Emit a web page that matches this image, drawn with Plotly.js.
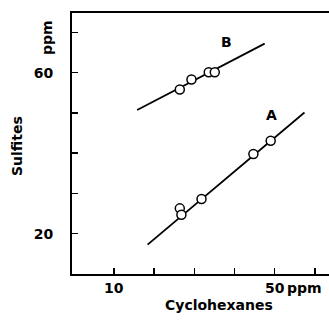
<!DOCTYPE html>
<html><head><meta charset="utf-8">
<script src="https://cdn.plot.ly/plotly-3.0.1.min.js"></script>
<style>html,body{margin:0;padding:0;background:#fff}</style>
</head><body><div id="chart" style="width:329px;height:326px"></div>
<script>
// Series B data (Cyclohexanes ppm, Sulfites ppm)
const bX = [26.4, 29.3, 33.6, 35.1];
const bY = [55.8, 58.3, 60.1, 60.1];
const bLineX = [15.8, 47.5];
const bLineY = [50.7, 67.2];
// Series A data
const aX = [26.4, 26.8, 31.8, 44.7, 49.0];
const aY = [26.3, 24.7, 28.6, 39.8, 43.1];
const aLineX = [18.4, 57.4];
const aLineY = [17.3, 50.1];
// Tick labels
const xTickVals = [10, 20, 30, 40, 50, 60];
const xTickText = ["10", "", "", "", "50", ""];
const yTickVals = [20, 30, 40, 50, 60, 70];
const yTickText = ["20", "", "", "", "60", ""];
const seriesLabels = ["A", "B"];

const FONT = "DejaVu Sans, sans-serif";
const F = {family: FONT, size: 14, weight: "bold", color: "#000"};
const lineStyle = {color: "#000", width: 1.8};
const markerStyle = {symbol: "circle", size: 9, color: "#fff", line: {color: "#000", width: 1.5}};

const data = [
  {x: bLineX, y: bLineY, mode: "lines", line: lineStyle, hoverinfo: "skip"},
  {x: aLineX, y: aLineY, mode: "lines", line: lineStyle, hoverinfo: "skip"},
  {x: bX, y: bY, mode: "markers", marker: markerStyle},
  {x: aX, y: aY, mode: "markers", marker: markerStyle}
];

const layout = {
  width: 329, height: 326,
  margin: {l: 72, r: 0, t: 13, b: 52},
  paper_bgcolor: "#fff", plot_bgcolor: "#fff",
  showlegend: false,
  font: F,
  xaxis: {
    range: [-0.4, 63.5], showgrid: false, zeroline: false,
    showline: true, linecolor: "#000", linewidth: 2, mirror: true,
    ticks: "inside", ticklen: 6, tickwidth: 1.5, tickcolor: "#000",
    tickvals: xTickVals, ticktext: xTickText, ticklabelstandoff: 0,
    tickfont: F
  },
  yaxis: {
    range: [10, 74.8], showgrid: false, zeroline: false,
    showline: true, linecolor: "#000", linewidth: 2, mirror: false,
    ticks: "inside", ticklen: 6, tickwidth: 1.5, tickcolor: "#000",
    tickvals: yTickVals, ticktext: yTickText, ticklabelstandoff: 14,
    tickfont: F
  },
  annotations: [
    {x: 49.1, y: 49.4, xref: "x", yref: "y", text: seriesLabels[0]},
    {x: 38.0, y: 67.6, xref: "x", yref: "y", text: seriesLabels[1]},
    {px: 47, py: 38, text: "ppm", textangle: -90},
    {px: 17, py: 146, text: "Sulfites", textangle: -90},
    {px: 304, py: 288, text: "ppm"},
    {px: 219, py: 305, text: "Cyclohexanes"}
  ]
};
// convert pixel-placed annotations to paper coords
const pw = 329 - 72 - 0, ph = 326 - 13 - 52;
layout.annotations.forEach(a => {
  a.showarrow = false; a.xanchor = "center"; a.yanchor = "middle"; a.font = F;
  if (a.px !== undefined) {
    a.xref = "paper"; a.yref = "paper";
    a.x = (a.px - 72) / pw;
    a.y = 1 - (a.py - 13) / ph;
    delete a.px; delete a.py;
  }
});
Plotly.newPlot("chart", data, layout, {displayModeBar: false, staticPlot: true});
</script></body></html>
